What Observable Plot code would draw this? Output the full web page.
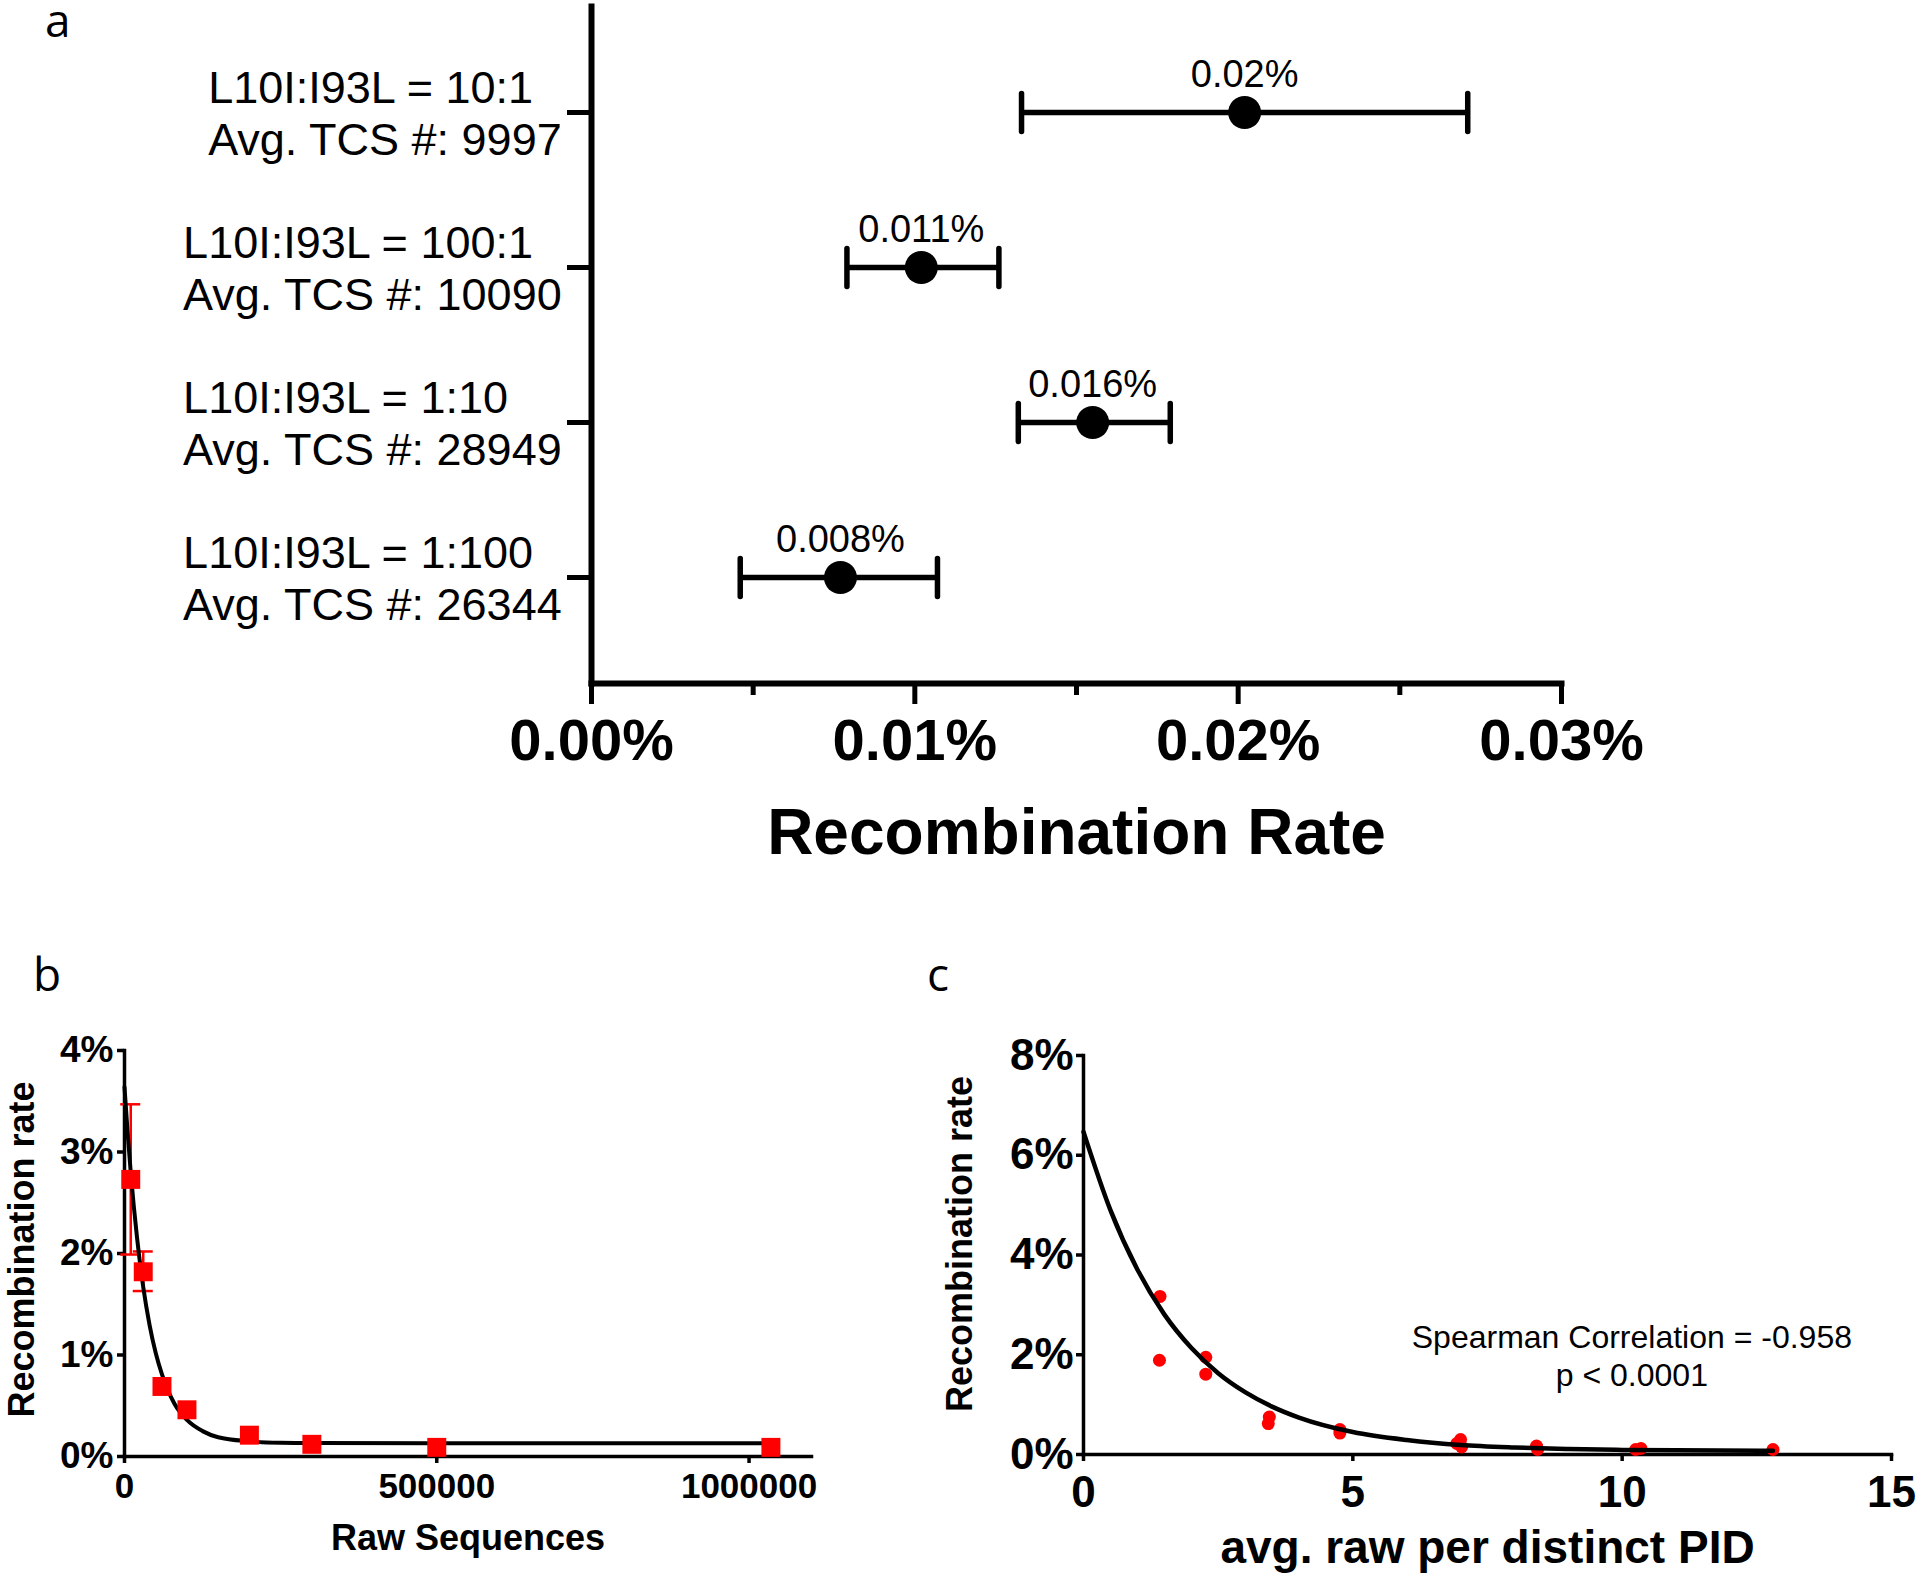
<!DOCTYPE html>
<html>
<head>
<meta charset="utf-8">
<script src="https://cdn.jsdelivr.net/npm/d3@7"></script>
<script src="https://cdn.jsdelivr.net/npm/@observablehq/plot@0.6"></script>
<style>
html, body { margin: 0; padding: 0; background: #fff; }
#fig { position: relative; width: 1920px; height: 1576px; background: #fff; overflow: hidden; }
#fig svg { position: absolute; }
.letter { position: absolute; font-family: "Open Sans", Lato, sans-serif; font-size: 46px; line-height: 30px; height: 30px; color: #000; }
</style>
</head>
<body>
<div id="fig"></div>
<script>
// ---------- Panel a data ----------
const ratios = ["L10I:I93L = 10:1", "L10I:I93L = 100:1", "L10I:I93L = 1:10", "L10I:I93L = 1:100"];
const avgTCS = ["Avg. TCS #: 9997", "Avg. TCS #: 10090", "Avg. TCS #: 28949", "Avg. TCS #: 26344"];
const rateA = [0.0202, 0.0102, 0.0155, 0.0077];          // % units
const lowA = [0.0133, 0.0079, 0.0132, 0.0046];
const highA = [0.0271, 0.0126, 0.0179, 0.0107];
const valueLabelsA = ["0.02%", "0.011%", "0.016%", "0.008%"];
const majorTicksA = [0, 0.01, 0.02, 0.03];
const minorTicksA = [0.005, 0.015, 0.025];
const titleA = "Recombination Rate";

// ---------- Panel b data ----------
const rawSeq = [10000, 30000, 60000, 100000, 200000, 300000, 500000, 1035000];
const recombB = [2.73, 1.82, 0.69, 0.46, 0.21, 0.12, 0.09, 0.09];
const errLowB = [1.99, 1.63, null, null, null, null, null, null];
const errHighB = [3.47, 2.02, null, null, null, null, null, null];
const fitXB = [0, 5000, 10000, 20000, 30000, 40000, 50000, 60000, 80000, 100000, 125000, 150000, 200000, 250000, 300000, 500000, 1040000];
const fitYB = [3.64, 3.19, 2.80, 2.16, 1.67, 1.30, 1.02, 0.81, 0.52, 0.36, 0.25, 0.19, 0.15, 0.135, 0.132, 0.131, 0.131];
const xTicksB = [0, 500000, 1000000];
const yTicksB = [0, 1, 2, 3, 4];
const xTitleB = "Raw Sequences";
const yTitle = "Recombination rate";

// ---------- Panel c data ----------
const rawPerPID = [1.42, 1.41, 2.27, 2.27, 3.45, 3.43, 4.76, 4.76, 6.93, 7.0, 7.02, 8.41, 8.43, 10.25, 10.35, 12.8];
const recombC = [3.17, 1.89, 1.95, 1.61, 0.75, 0.62, 0.50, 0.43, 0.22, 0.30, 0.15, 0.17, 0.10, 0.10, 0.12, 0.10];
const fitXC = [0, 0.5, 1, 1.5, 2, 2.5, 3, 3.5, 4, 5, 6, 7, 8, 9, 10, 11, 12.8];
const fitYC = [6.47, 4.90, 3.71, 2.81, 2.14, 1.63, 1.25, 0.96, 0.74, 0.45, 0.29, 0.19, 0.14, 0.11, 0.092, 0.083, 0.075];
const xTicksC = [0, 5, 10, 15];
const yTicksC = [0, 2, 4, 6, 8];
const xTitleC = "avg. raw per distinct PID";
const annotC = [{x: 10.18, y: 1.99, text: "Spearman Correlation = -0.958\np < 0.0001"}];

const panelLetters = [
  {t: "a", left: 45, top: 4},
  {t: "b", left: 33, top: 958},
  {t: "c", left: 927, top: 958}
];

const FONT = '"Liberation Sans", Arial, Helvetica, sans-serif';
const fig = document.getElementById("fig");
const styleBase = {fontFamily: FONT, fontSize: "20px", background: "transparent", color: "black", overflow: "visible"};

// vertical bar symbol for error-bar caps
const vbar = {draw(context, size) { const h = Math.sqrt(size / Math.PI); context.moveTo(0, -h); context.lineTo(0, h); }};

// ---------- Panel a ----------
const rowsA = ratios.map((r, i) => ({cat: r, tcs: avgTCS[i], rate: rateA[i], lo: lowA[i], hi: highA[i], label: valueLabelsA[i]}));
const ctx = document.createElement("canvas").getContext("2d");
ctx.font = `45px ${FONT}`;
const catLabelMarks = rowsA.map(d => {
  const w = Math.max(ctx.measureText(d.cat).width, ctx.measureText(d.tcs).width);
  return Plot.text([d], {
    y: "cat", text: r => r.cat + "\n" + r.tcs, frameAnchor: "left", textAnchor: "start",
    dx: -(29 + w), fontSize: 45, lineHeight: 1.15, fill: "black"
  });
});

const plotA = Plot.plot({
  width: 1700, height: 880,
  marginLeft: 591, marginRight: 139, marginTop: 6, marginBottom: 197,
  x: {domain: [0, 0.03], axis: null},
  y: {type: "point", domain: ratios, padding: 0.67, axis: null},
  style: styleBase,
  marks: [
    Plot.frame({anchor: "left", strokeWidth: 6}),
    Plot.frame({anchor: "bottom", strokeWidth: 6}),
    Plot.axisY({tickSize: 24, strokeWidth: 5, fill: "none", label: null}),
    Plot.axisX(majorTicksA, {tickSize: 21, tickPadding: 14, strokeWidth: 5, fontSize: 58, fontWeight: "bold",
      tickFormat: d => d.toFixed(2) + "%", label: null}),
    Plot.axisX(minorTicksA, {tickSize: 12, strokeWidth: 5, fill: "none", label: null}),
    Plot.ruleY(rowsA, {y: "cat", x1: "lo", x2: "hi", strokeWidth: 5.5}),
    Plot.dot(rowsA, {x: "lo", y: "cat", symbol: vbar, r: 19, stroke: "black", strokeWidth: 5.5, fill: "none", strokeLinecap: "round"}),
    Plot.dot(rowsA, {x: "hi", y: "cat", symbol: vbar, r: 19, stroke: "black", strokeWidth: 5.5, fill: "none", strokeLinecap: "round"}),
    Plot.dot(rowsA, {x: "rate", y: "cat", r: 16.5, fill: "black"}),
    Plot.text(rowsA, {x: "rate", y: "cat", text: "label", dy: -26, lineAnchor: "bottom", fontSize: 38, fill: "black"}),
    ...catLabelMarks,
    Plot.text([titleA], {frameAnchor: "bottom", text: d => d, dy: 170, lineAnchor: "bottom", fontSize: 64, fontWeight: "bold", fill: "black"})
  ]
});
plotA.style.left = "0px"; plotA.style.top = "0px";
fig.appendChild(plotA);

// ---------- Panel b ----------
const ptsB = rawSeq.map((x, i) => ({x, y: recombB[i], lo: errLowB[i], hi: errHighB[i]}));
const errB = ptsB.filter(d => d.lo != null);
const curveB = fitXB.map((x, i) => ({x, y: fitYB[i]}));

const plotB = Plot.plot({
  width: 900, height: 636,
  marginLeft: 124, marginRight: 89, marginTop: 110, marginBottom: 120,
  x: {domain: [0, 1100000], axis: null},
  y: {domain: [0, 4], axis: null},
  style: styleBase,
  marks: [
    Plot.frame({anchor: "left", strokeWidth: 3.5}),
    Plot.frame({anchor: "bottom", strokeWidth: 3.5}),
    Plot.axisY(yTicksB, {tickSize: 7, tickPadding: 4, strokeWidth: 3.5, fontSize: 37, fontWeight: "bold",
      tickFormat: d => d + "%", label: null}),
    Plot.axisX(xTicksB, {tickSize: 7, tickPadding: 10, strokeWidth: 3.5, fontSize: 35, fontWeight: "bold",
      tickFormat: d => String(d), label: null}),
    Plot.ruleX(errB, {x: "x", y1: "lo", y2: "hi", stroke: "red", strokeWidth: 2.5}),
    Plot.ruleY(errB, {y: "lo", x1: "x", x2: "x", insetLeft: -10, insetRight: -10, stroke: "red", strokeWidth: 2.5}),
    Plot.ruleY(errB, {y: "hi", x1: "x", x2: "x", insetLeft: -10, insetRight: -10, stroke: "red", strokeWidth: 2.5}),
    Plot.line(curveB, {x: "x", y: "y", curve: "monotone-x", strokeWidth: 4, stroke: "black"}),
    Plot.dot(ptsB, {x: "x", y: "y", symbol: "square", r: 10.7, fill: "red"}),
    Plot.text([xTitleB], {frameAnchor: "bottom", text: d => d, dy: 93, lineAnchor: "bottom", fontSize: 36, fontWeight: "bold", fill: "black"}),
    Plot.text([yTitle], {frameAnchor: "left", textAnchor: "middle", text: d => d, rotate: -90, dx: -91, dy: -4, lineAnchor: "bottom", fontSize: 36, fontWeight: "bold", fill: "black"})
  ]
});
plotB.style.left = "0px"; plotB.style.top = "940px";
fig.appendChild(plotB);

// ---------- Panel c ----------
const ptsC = rawPerPID.map((x, i) => ({x, y: recombC[i]}));
const curveC = fitXC.map((x, i) => ({x, y: fitYC[i]}));

const plotC = Plot.plot({
  width: 1020, height: 636,
  marginLeft: 183, marginRight: 29, marginTop: 115, marginBottom: 122,
  x: {domain: [0, 15], axis: null},
  y: {domain: [0, 8], axis: null},
  style: styleBase,
  marks: [
    Plot.frame({anchor: "left", strokeWidth: 3.5}),
    Plot.frame({anchor: "bottom", strokeWidth: 3.5}),
    Plot.axisY(yTicksC, {tickSize: 7, tickPadding: 3, strokeWidth: 3.5, fontSize: 44, fontWeight: "bold",
      tickFormat: d => d + "%", label: null}),
    Plot.axisX(xTicksC, {tickSize: 7, tickPadding: 14, strokeWidth: 3.5, fontSize: 44, fontWeight: "bold",
      tickFormat: d => String(d), label: null}),
    Plot.dot(ptsC, {x: "x", y: "y", r: 6.5, fill: "red"}),
    Plot.line(curveC, {x: "x", y: "y", curve: "monotone-x", strokeWidth: 4.5, stroke: "black"}),
    Plot.text(annotC, {x: "x", y: "y", text: "text", fontSize: 32, lineHeight: 1.1875, fill: "black"}),
    Plot.text([xTitleC], {frameAnchor: "bottom", text: d => d, dy: 108, lineAnchor: "bottom", fontSize: 46, fontWeight: "bold", fill: "black"}),
    Plot.text([yTitle], {frameAnchor: "left", textAnchor: "middle", text: d => d, rotate: -90, dx: -112, dy: -11, lineAnchor: "bottom", fontSize: 36, fontWeight: "bold", fill: "black"})
  ]
});
plotC.style.left = "900px"; plotC.style.top = "940px";
fig.appendChild(plotC);

// ---------- Panel letters ----------
for (const d of panelLetters) {
  const el = document.createElement("div");
  el.className = "letter";
  el.style.left = d.left + "px";
  el.style.top = d.top + "px";
  el.textContent = d.t;
  fig.appendChild(el);
}
</script>
</body>
</html>
